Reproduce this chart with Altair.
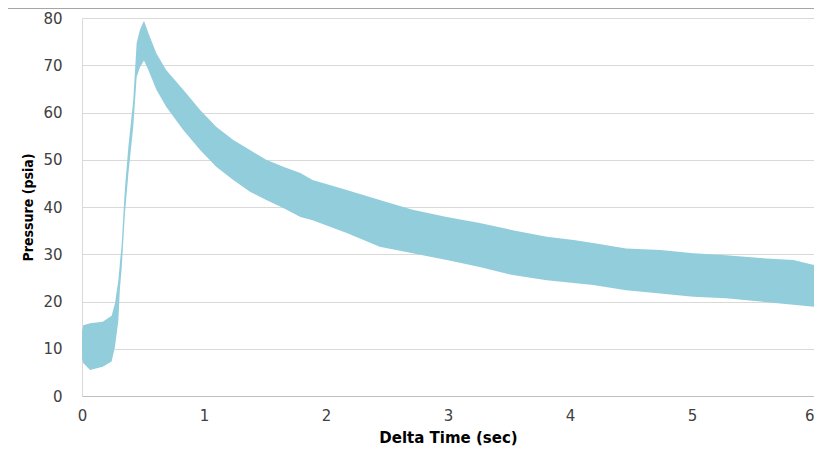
import altair as alt
import pandas as pd

# Envelope of the noisy pressure trace
time_s = [0.0, 0.01, 0.066, 0.17, 0.243, 0.27, 0.298, 0.31, 0.325, 0.352, 0.38, 0.42,
          0.448, 0.475, 0.508, 0.544, 0.61, 0.69, 0.83, 0.97, 1.10, 1.24, 1.38, 1.51,
          1.65, 1.79, 1.89, 2.17, 2.44, 2.71, 2.99, 3.26, 3.53, 3.81, 4.03, 4.19,
          4.46, 4.74, 5.01, 5.28, 5.56, 5.83, 6.0]
upper_psia = [13.5, 15.0, 15.4, 15.7, 17.0, 19.6, 24.5, 28.0, 32.0, 44.0, 52.7, 62.6,
              74.7, 77.5, 79.4, 76.8, 72.5, 69.0, 64.8, 60.5, 57.0, 54.2, 52.0, 50.0,
              48.5, 47.2, 45.7, 43.6, 41.5, 39.4, 37.9, 36.6, 35.1, 33.7, 33.0, 32.4,
              31.2, 30.9, 30.2, 29.8, 29.2, 28.8, 27.7]
lower_psia = [8.0, 7.0, 5.5, 6.2, 7.3, 10.4, 16.0, 22.4, 27.0, 38.7, 47.0, 57.0,
              67.5, 69.6, 71.0, 69.0, 64.8, 61.2, 56.3, 52.0, 48.5, 45.7, 43.2, 41.5,
              39.8, 37.9, 37.2, 34.5, 31.6, 30.2, 28.8, 27.3, 25.6, 24.5, 23.9, 23.5,
              22.4, 21.7, 21.0, 20.7, 20.0, 19.3, 18.9]

x_ticks = [0, 1, 2, 3, 4, 5, 6]
y_ticks = [0, 10, 20, 30, 40, 50, 60, 70, 80]

df = pd.DataFrame({"t": time_s, "hi": upper_psia, "lo": lower_psia})

band = alt.Chart(df).mark_area(color="#92CDDC", opacity=1, interpolate="linear").encode(
    x=alt.X("t:Q",
            scale=alt.Scale(domain=[0, 6], nice=False),
            axis=alt.Axis(values=x_ticks, title="Delta Time (sec)", grid=False,
                          tickSize=0, labelPadding=12, labelFontSize=15,
                          labelFlush=False,
                          labelAlign=alt.expr("datum.value == 6 ? 'right' : 'center'"),
                          labelFont="DejaVu Sans", labelColor="#404040",
                          titleFont="DejaVu Sans", titleFontSize=15, titleFontWeight="bold",
                          titleColor="#000000", titlePadding=7,
                          domainColor="#BFBFBF", domainWidth=1)),
    y=alt.Y("hi:Q",
            scale=alt.Scale(domain=[0, 80], nice=False),
            axis=alt.Axis(values=y_ticks, title="Pressure (psia)", grid=True,
                          gridColor="#D9D9D9", gridWidth=1,
                          tickSize=0, labelPadding=20, labelFontSize=15,
                          labelFont="DejaVu Sans", labelColor="#404040",
                          titleFont="DejaVu Sans Condensed, Roboto, sans-serif",
                          titleFontSize=14,
                          titleFontWeight="bold", titleColor="#000000", titlePadding=7,
                          domainColor="#D9D9D9", domainWidth=1)),
    y2="lo:Q",
)

border = alt.Chart(pd.DataFrame({"k": [0]})).mark_rule(color="#A6A6A6", strokeWidth=1).encode(
    x=alt.value(-74), x2=alt.value(732), y=alt.value(-9.5)
)

chart = alt.layer(band, border).properties(
    width=732,
    height=378,
    autosize=alt.AutoSizeParams(type="none"),
    padding={"left": 74, "top": 10, "right": 0, "bottom": 50},
    background="white",
).configure_view(stroke=None)

chart.save("out.html", embed_options={"renderer": "svg", "actions": False})
